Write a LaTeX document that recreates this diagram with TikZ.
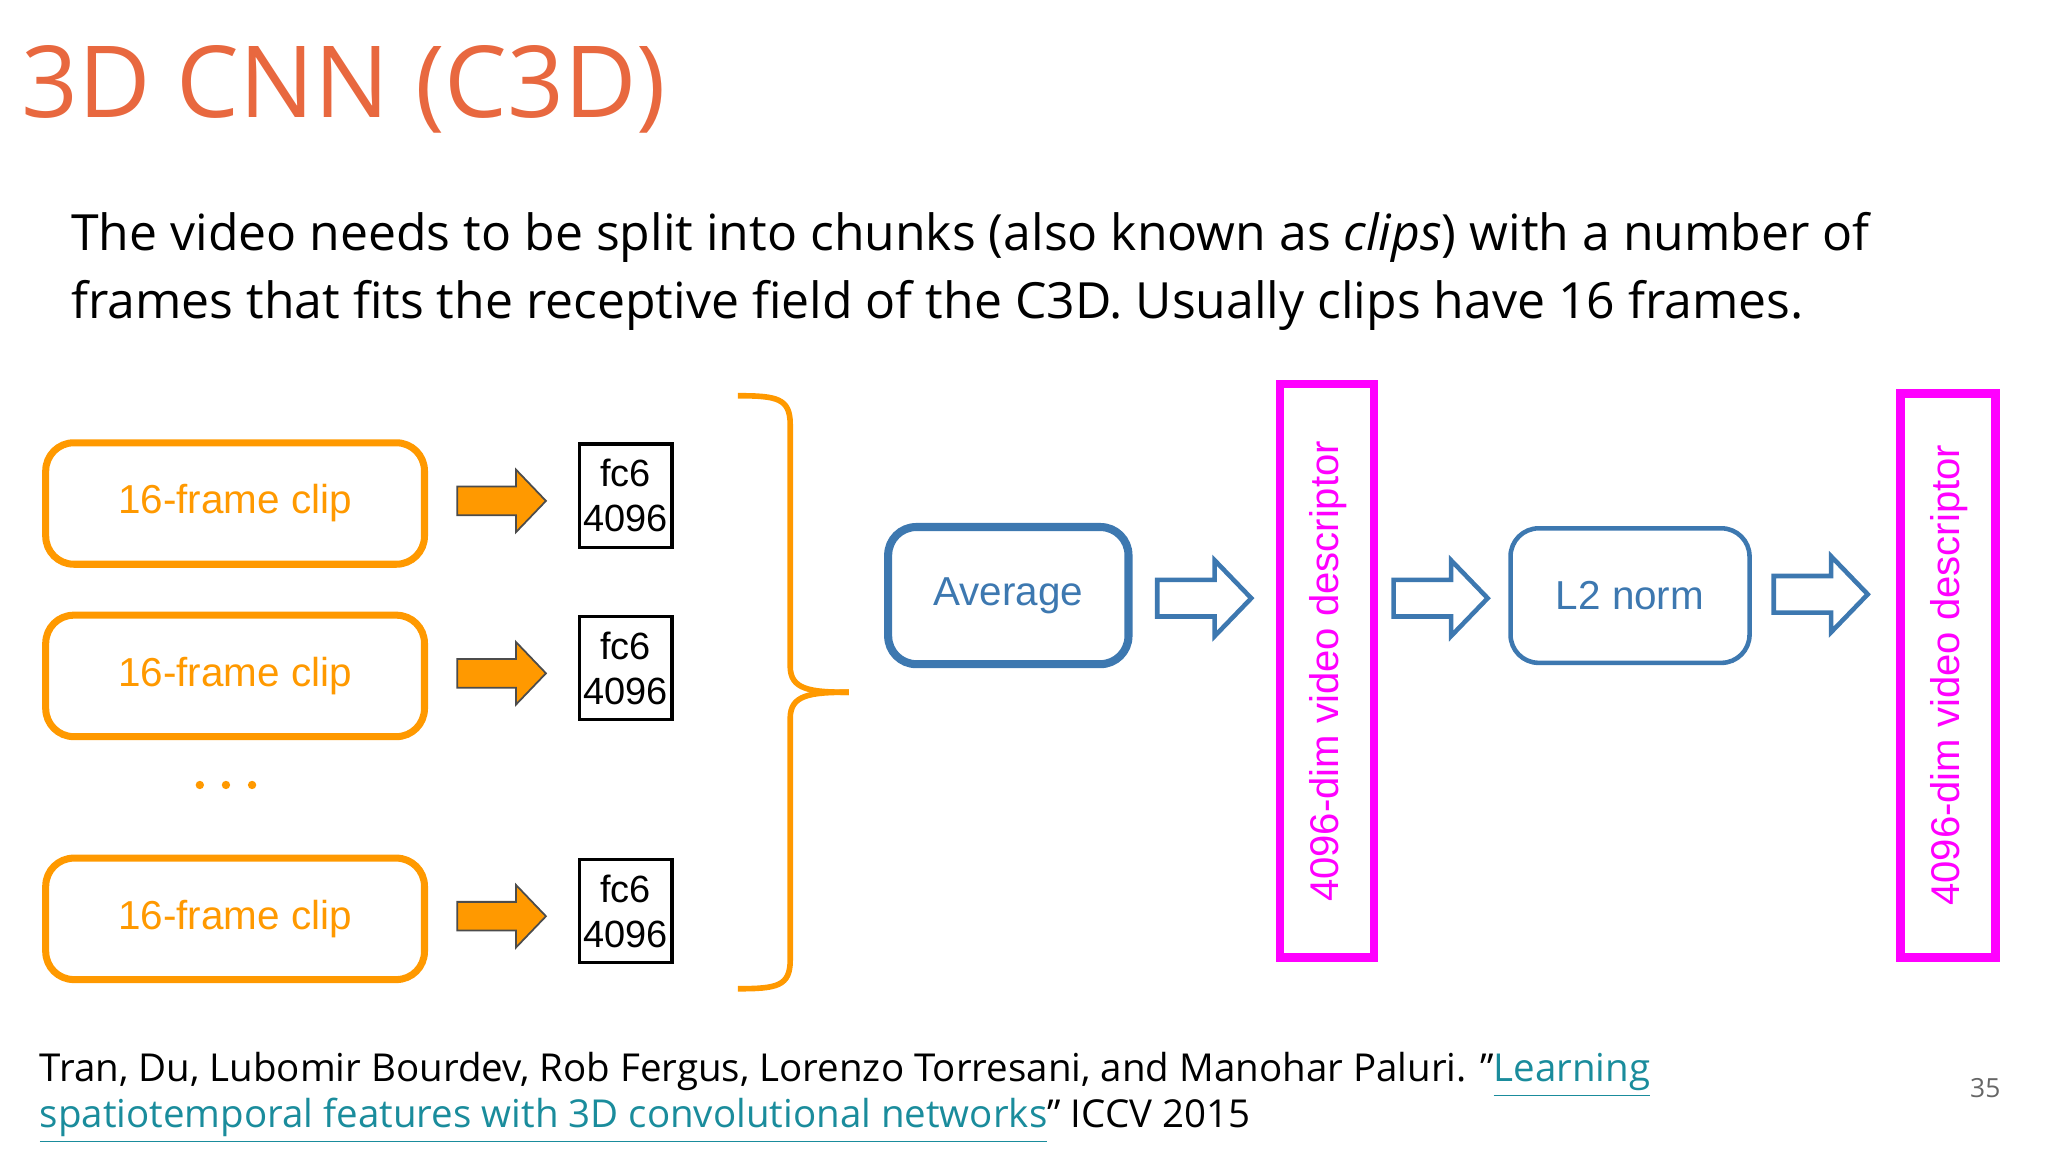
\documentclass[tikz,border=0pt]{standalone}
\usepackage{fontspec}
\setmainfont{Open Sans}
\newfontfamily\arial{Liberation Sans}
\usepackage{xcolor}
\definecolor{ttl}{HTML}{E8683F}
\definecolor{org}{HTML}{FF9900}
\definecolor{blu}{HTML}{3D78B0}
\definecolor{mag}{HTML}{FF00FF}
\definecolor{lnk}{HTML}{1A8C9C}
\newcommand{\sq}{{\char"22}}
\begin{document}
\begin{tikzpicture}[x=0.01306cm,y=-0.01306cm,
 clip/.style={draw=org,line width=2pt,rounded corners=8pt,font=\arial\fontsize{11.5}{13}\selectfont,text=org},
 fcbox/.style={draw=black,line width=1pt,font=\arial\fontsize{10.8}{12.8}\selectfont,align=center,inner sep=0pt},
 oarrow/.style={fill=org,draw=black!70,line width=0.5pt},
 barrow/.style={fill=white,draw=blu,line width=1.3pt},
 mrect/.style={draw=mag,line width=2.5pt},
 vtext/.style={text=mag,font=\arial\fontsize{11.4}{13}\selectfont,rotate=90}]
\useasboundingbox (0,0) rectangle (1568,882);
\node[anchor=base west,text=ttl,font=\fontsize{28.3}{32}\selectfont,inner sep=0] (title) at (16,90) {3D CNN (C3D)};
\node[anchor=base west,font=\fontsize{14.2}{16}\selectfont,inner sep=0] (l1) at (54,192) {The video needs to be split into chunks (also known as \textit{clips}) with a number of};
\node[anchor=base west,font=\fontsize{14.2}{16}\selectfont,inner sep=0] (l2) at (54,244) {frames that fits the receptive field of the C3D. Usually clips have 16 frames.};
% clips
\foreach \n/\a/\b in {1/337/430,2/469/562,3/655/748}{
 \node[clip,minimum width=290*0.01306cm,minimum height={(\b-\a)*0.01306cm}] (c\n) at (180,{(\a+\b)/2+2}) {16-frame clip};
 \pgfmathsetmacro\cy{(\a+\b)/2}
 \draw[oarrow] (350,\cy-11) -- (395,\cy-11) -- (395,\cy-24) -- (418,\cy) -- (395,\cy+24) -- (395,\cy+11) -- (350,\cy+11) -- cycle;
 \node[fcbox,minimum width=71*0.01306cm,minimum height=79*0.01306cm] (f\n) at (479,\cy-4) {fc6\\4096};
}
\foreach \i in {153,173,193}{\fill[org] (\i,601) circle (3.2);}
% brace
\draw[org,line width=1.6pt] (565,303) .. controls (595,303) and (605,305) .. (605,325) -- (605,510) .. controls (605,528) and (620,530) .. (650,530);
\draw[org,line width=1.6pt] (565,757) .. controls (595,757) and (605,755) .. (605,735) -- (605,550) .. controls (605,532) and (620,530) .. (650,530);
% average
\node[draw=blu,line width=2.3pt,rounded corners=8pt,minimum width=184*0.01306cm,minimum height=105*0.01306cm,text=blu,font=\arial\fontsize{11.5}{13}\selectfont] (avg) at (772,456) {Average};
\node[draw=blu,line width=1.3pt,rounded corners=8pt,minimum width=183*0.01306cm,minimum height=103*0.01306cm,text=blu,font=\arial\fontsize{11.5}{13}\selectfont] (l2n) at (1248,456) {L2 norm};
\foreach \xa/\cy in {886/458,1067/458,1358/455}{
 \draw[barrow] (\xa,\cy-14) -- (\xa+44,\cy-14) -- (\xa+44,\cy-29) -- (\xa+72,\cy) -- (\xa+44,\cy+29) -- (\xa+44,\cy+14) -- (\xa,\cy+14) -- cycle;
}
\draw[mrect] (980,294) rectangle (1052,733);
\draw[mrect] (1455,301) rectangle (1528,733);
\node[vtext] (d1) at (1017,514) {4096-dim video descriptor};
\node[vtext] (d2) at (1492,517) {4096-dim video descriptor};
% footer
\node[anchor=base west,font=\fontsize{10.95}{12}\selectfont,inner sep=0] (ref1) at (30,828) {Tran, Du, Lubomir Bourdev, Rob Fergus, Lorenzo Torresani, and Manohar Paluri. \sq\textcolor{lnk}{\underline{Learning}}};
\node[anchor=base west,font=\fontsize{10.95}{12}\selectfont,inner sep=0] (ref2) at (30,863) {\textcolor{lnk}{\underline{spatiotemporal features with 3D convolutional networks}}\sq{} ICCV 2015};
\node[text=black!60,font=\fontsize{7.5}{9}\selectfont] (pg) at (1520,833) {35};
\end{tikzpicture}
\end{document}
